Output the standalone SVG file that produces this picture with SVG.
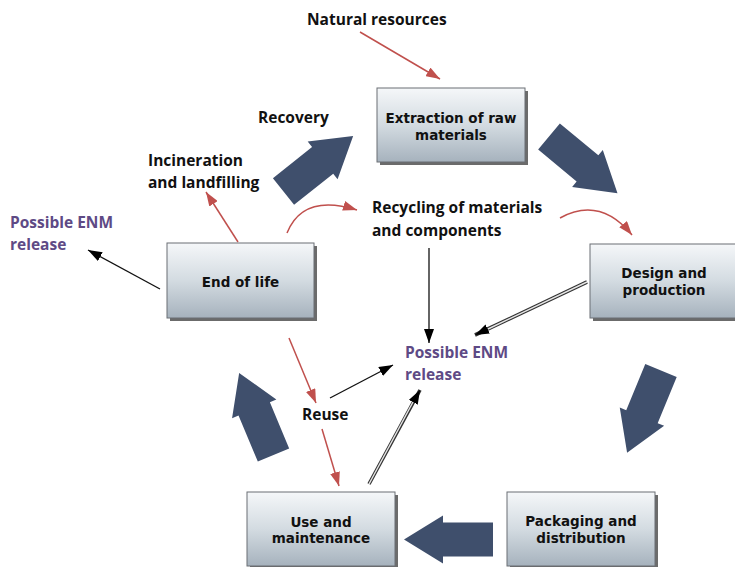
<svg xmlns="http://www.w3.org/2000/svg" width="735" height="567" viewBox="0 0 735 567">
<style>
.box{fill:url(#boxGrad);stroke:#6b6f74;stroke-width:1}
.shadow{fill:#3a3a3a;opacity:0.75}
.btxt{font-family:"DejaVu Sans",Verdana,sans-serif;font-weight:bold;font-size:13.5px;fill:#111;text-anchor:middle}
.lbl{font-family:"Open Sans","Noto Sans",sans-serif;font-weight:700;font-size:15.5px;fill:#111}
.enm{font-family:"Open Sans","Noto Sans",sans-serif;font-weight:700;font-size:15.5px;fill:#5e4a85}
.big{fill:#3f4f6c}
.red{fill:none;stroke:#c0504d;stroke-width:1.5;marker-end:url(#redHead)}
.blk{fill:none;stroke:#111;stroke-width:1.3;marker-end:url(#blkHead)}
.dblo{fill:none;stroke:#333;stroke-width:3.6;marker-end:url(#blkHead)}
.dbli{fill:none;stroke:#e6e6e6;stroke-width:1.4}
</style>
<defs>
<linearGradient id="boxGrad" x1="0" y1="0" x2="0" y2="1">
<stop offset="0" stop-color="#f5f7f9"/>
<stop offset="0.5" stop-color="#d3dbe1"/>
<stop offset="1" stop-color="#a6b2bd"/>
</linearGradient>
<marker id="redHead" viewBox="0 0 14 10" refX="14" refY="5" markerWidth="14" markerHeight="10" markerUnits="userSpaceOnUse" orient="auto"><path d="M0,0 L14,5 L0,10 Z" fill="#c0504d"/></marker>
<marker id="blkHead" viewBox="0 0 14 10" refX="14" refY="5" markerWidth="14" markerHeight="10" markerUnits="userSpaceOnUse" orient="auto"><path d="M0,0 L14,5 L0,10 Z" fill="#000"/></marker>
<path id="bigArrow" d="M0,-17 L50,-17 L50,-24 L89,0 L50,24 L50,17 L0,17 Z"/>
</defs>

<g id="big-arrows">
<use href="#bigArrow" class="big" transform="translate(283.5,191.5) rotate(-38.5)"/>
<use href="#bigArrow" class="big" transform="translate(549,136.5) rotate(39.7)"/>
<use href="#bigArrow" class="big" transform="translate(661,370.5) rotate(112.4)"/>
<use href="#bigArrow" class="big" transform="translate(493,539.5) rotate(180)"/>
<use href="#bigArrow" class="big" transform="translate(273.5,455) rotate(-112.7)"/>
</g>

<g id="connectors">
<path class="red" d="M360,32 L440,79"/>
<path class="red" d="M238,242 L206,192"/>
<path class="red" d="M287,233 Q303,193 357,210"/>
<path class="red" d="M560,218 Q600,196 632,235"/>
<path class="blk" d="M429,248 L429,343"/>
<path class="dblo" d="M587,282 L475,335"/>
<path class="dbli" d="M587,282 L488,329"/>
<path class="blk" d="M160,289 L88,250"/>
<path class="red" d="M289,338 L316,403"/>
<path class="red" d="M322,429 L339,486"/>
<path class="blk" d="M330,398 L393,365"/>
<path class="dblo" d="M369,484 L420,390"/>
<path class="dbli" d="M369,484 L413,402"/>
</g>

<g id="extraction">
<rect class="shadow" x="380" y="91" width="148" height="74"/>
<rect class="box" x="377" y="88" width="148" height="74"/>
<text class="btxt" x="451" y="123">Extraction of raw</text>
<text class="btxt" x="451" y="140">materials</text>
</g>
<g id="design">
<rect class="shadow" x="593" y="247" width="148" height="74"/>
<rect class="box" x="590" y="244" width="148" height="74"/>
<text class="btxt" x="664" y="278">Design and</text>
<text class="btxt" x="664" y="295">production</text>
</g>
<g id="packaging">
<rect class="shadow" x="510" y="495" width="148" height="74"/>
<rect class="box" x="507" y="492" width="148" height="74"/>
<text class="btxt" x="581" y="526">Packaging and</text>
<text class="btxt" x="581" y="543">distribution</text>
</g>
<g id="use">
<rect class="shadow" x="250" y="495" width="148" height="74"/>
<rect class="box" x="247" y="492" width="148" height="74"/>
<text class="btxt" x="321" y="527">Use and</text>
<text class="btxt" x="321" y="543">maintenance</text>
</g>
<g id="endoflife">
<rect class="shadow" x="170" y="246" width="147" height="75"/>
<rect class="box" x="167" y="243" width="147" height="75"/>
<text class="btxt" x="240.5" y="287">End of life</text>
</g>

<g id="labels">
<text class="lbl" x="307" y="25">Natural resources</text>
<text class="lbl" x="258" y="123">Recovery</text>
<text class="lbl" x="148" y="166">Incineration</text>
<text class="lbl" x="148" y="188">and landfilling</text>
<text class="lbl" x="372" y="213">Recycling of materials</text>
<text class="lbl" x="372" y="236">and components</text>
<text class="lbl" x="302" y="420">Reuse</text>
<text class="enm" x="10" y="228">Possible ENM</text>
<text class="enm" x="10" y="250">release</text>
<text class="enm" x="405" y="358">Possible ENM</text>
<text class="enm" x="405" y="380">release</text>
</g>
</svg>
